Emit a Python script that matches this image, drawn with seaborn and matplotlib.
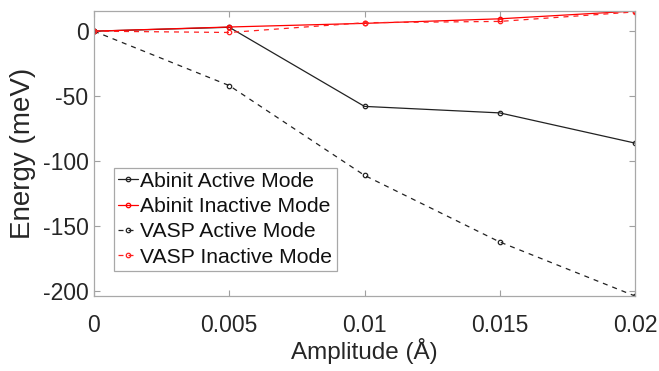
import matplotlib
matplotlib.use("Agg")
import matplotlib.pyplot as plt
import seaborn as sns
import pandas as pd

amplitude = [0, 0.005, 0.01, 0.015, 0.02]
abinit_active = [0, 3.0, -57.8, -62.8, -86.0]
abinit_inactive = [0, 3.2, 6.0, 9.5, 15.5]
vasp_active = [0, -41.8, -110.8, -162.0, -203.5]
vasp_inactive = [0, -1.0, 6.5, 7.5, 14.8]

labels = ["Abinit Active Mode", "Abinit Inactive Mode", "VASP Active Mode", "VASP Inactive Mode"]
series = [abinit_active, abinit_inactive, vasp_active, vasp_inactive]
colors = ["#222222", "#ff0000", "#222222", "#ff2020"]
styles = ["-", "-", (0, (4, 4)), (0, (4, 4))]

sns.set_theme(style="white")
plt.rcParams['font.family'] = ['Liberation Sans', 'DejaVu Sans']

fig = plt.figure(figsize=(6.59, 3.71), dpi=100)
ax = fig.add_axes([94/659, 1-296/371, (635-94)/659, (296-11)/371])

for lab, vals, c, ls in zip(labels, series, colors, styles):
    df = pd.DataFrame({"x": amplitude, "y": vals})
    sns.lineplot(data=df, x="x", y="y", ax=ax, color=c, linestyle=ls, linewidth=0.9,
                 marker="o", markersize=3.2, markerfacecolor="none", markeredgecolor=c,
                 markeredgewidth=0.9, label=lab)

allv = [v for s in series for v in s]
ax.set_xlim(0, 0.02)
ax.set_ylim(min(allv), max(allv))
ax.set_xticks(amplitude)
ax.set_xticklabels(["0", "0.005", "0.01", "0.015", "0.02"])
ax.set_yticks([0, -50, -100, -150, -200])
ax.set_yticklabels(["0", "-50", "-100", "-150", "-200"])

txtc = "#262626"
ax.tick_params(direction="in", length=4, width=0.8, color="#a0a0a0",
               top=True, right=True, bottom=True, left=True,
               labelsize=16.5, labelcolor=txtc)
ax.tick_params(axis="x", pad=13)
ax.tick_params(axis="y", pad=4)
for sp in ax.spines.values():
    sp.set_color("#a8a8a8")
    sp.set_linewidth(0.9)

ax.set_xlabel("Amplitude (Å)", fontsize=17.5, color=txtc, labelpad=1)
ax.set_ylabel("Energy (meV)", fontsize=20, color=txtc, labelpad=5)

leg = ax.legend(loc="lower left", bbox_to_anchor=(20/541, 25/285), fontsize=15.2,
                frameon=True, fancybox=False, edgecolor="#a8a8a8", framealpha=1,
                handlelength=0.95, handletextpad=0.1, borderpad=0.2, labelspacing=0.3,
                borderaxespad=0)
leg.get_frame().set_linewidth(0.9)
for t in leg.get_texts():
    t.set_color("#111111")

fig.savefig("out.png", dpi=100)
